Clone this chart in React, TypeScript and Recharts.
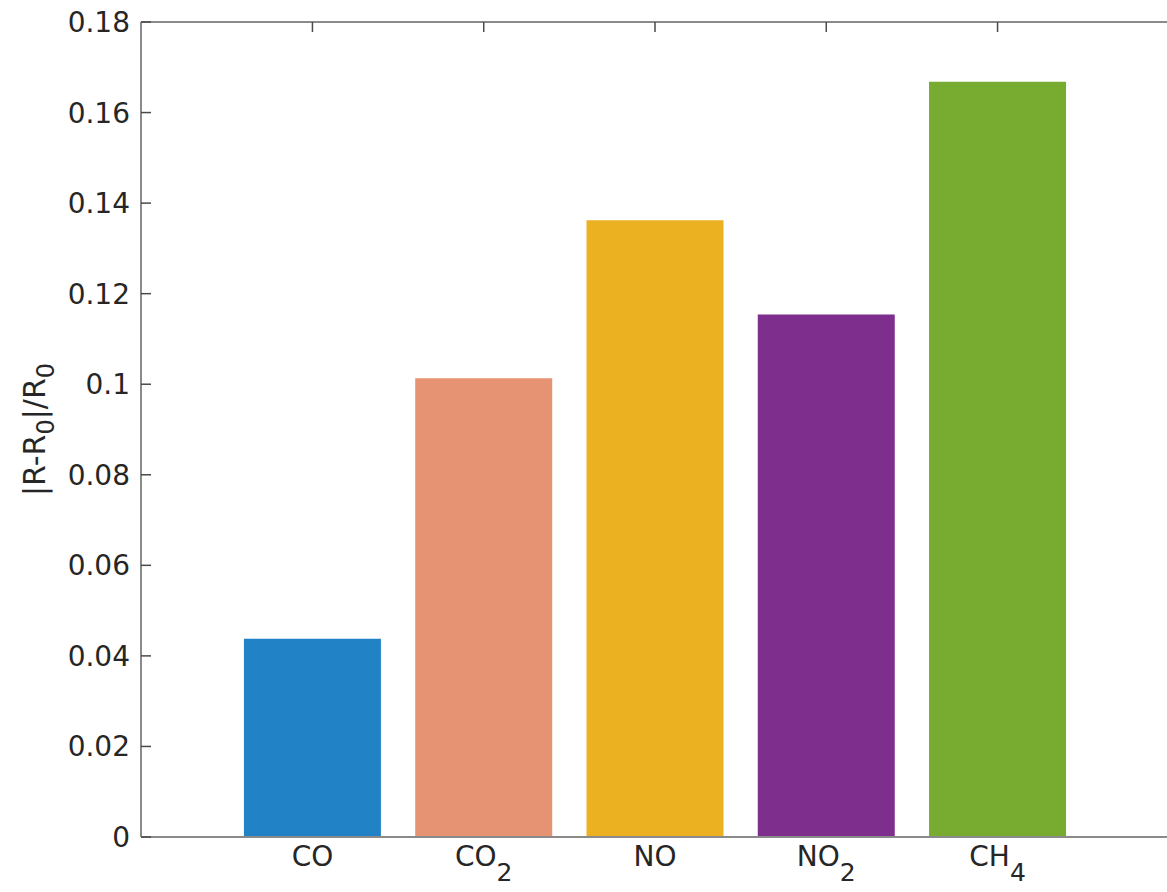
import React from 'react';
import { BarChart, Bar, XAxis, YAxis, Cell } from 'recharts';

// gas sensor relative response
const gases = ['CO', 'CO2', 'NO', 'NO2', 'CH4'];
const gasBase = ['CO', 'CO', 'NO', 'NO', 'CH'];
const gasSub = ['', '2', '', '2', '4'];
const response = [0.0438, 0.1013, 0.1362, 0.1154, 0.1668];
const barColors = ['#2183c6', '#e69373', '#ebb121', '#7e2f8e', '#78ac30'];
const yTicks = [0, 0.02, 0.04, 0.06, 0.08, 0.1, 0.12, 0.14, 0.16, 0.18];

const data = gases.map((name, i) => ({ name, base: gasBase[i], sub: gasSub[i], value: response[i] }));

const FONT = '"DejaVu Sans", sans-serif';
const TEXT = '#262626';
const AXIS = '#8a8a8a';
const TICK = '#4a4a4a';
const TICK_LEN = 10;

const fmt = (v: number) => String(Number(v.toFixed(2)));

const GasTick = (props: any) => {
    const { x, y, index } = props;
    const row = data[index];
    if (!row) return null;
    return (
        <text x={x} y={y} textAnchor="middle" fill={TEXT} fontFamily={FONT} fontSize={28}>
            <tspan dy={27}>{row.base}</tspan>
            {row.sub ? <tspan dy={15} fontSize={25}>{row.sub}</tspan> : null}
        </text>
    );
};

// left ticks: label outside, mark pointing into the plot
const LeftTick = (props: any) => {
    const { x, y, payload } = props;
    return (
        <g>
            <line x1={x + 11} x2={x + 11 + TICK_LEN} y1={y} y2={y} stroke={TICK} strokeWidth={1.5} />
            <text x={x} y={y} dy={10} textAnchor="end" fill={TEXT} fontFamily={FONT} fontSize={28}>
                {fmt(payload.value)}
            </text>
        </g>
    );
};

const RightTick = (props: any) => {
    const { x, y } = props;
    return <line x1={x - TICK_LEN} x2={x} y1={y} y2={y} stroke={TICK} strokeWidth={1.5} />;
};

const TopTick = (props: any) => {
    const { x, y } = props;
    return <line x1={x} x2={x} y1={y} y2={y + TICK_LEN} stroke={TICK} strokeWidth={1.5} />;
};

const YLabel = (props: any) => {
    const vb = props.viewBox || { x: 0, y: 0, width: 141, height: 815 };
    const cx = vb.x + 45;
    const cy = vb.y + vb.height / 2;
    return (
        <text
            transform={`translate(${cx},${cy}) rotate(-90)`}
            textAnchor="middle"
            fill={TEXT}
            fontFamily={FONT}
            fontSize={30}
        >
            <tspan>|R-R</tspan>
            <tspan dy={9} fontSize={24}>0</tspan>
            <tspan dy={-9}>|/R</tspan>
            <tspan dy={9} fontSize={24}>0</tspan>
        </text>
    );
};

export default function App() {
    return (
        <div style={{ position: 'absolute', left: 0, top: 0, width: 1167, height: 892, overflow: 'hidden', background: '#fff' }}>
            <BarChart
                width={1169}
                height={892}
                data={data}
                margin={{ top: 21, right: 0, bottom: 0, left: 0 }}
                barCategoryGap="10%"
            >
                <XAxis
                    xAxisId="b"
                    dataKey="name"
                    orientation="bottom"
                    height={55}
                    padding={{ left: 85.8, right: 85.8 }}
                    axisLine={{ stroke: AXIS, strokeWidth: 2 }}
                    tickLine={false}
                    tickSize={0}
                    tick={<GasTick />}
                    interval={0}
                />
                <XAxis
                    xAxisId="t"
                    dataKey="name"
                    orientation="top"
                    height={1}
                    padding={{ left: 85.8, right: 85.8 }}
                    axisLine={{ stroke: AXIS, strokeWidth: 2 }}
                    tickLine={false}
                    tickSize={0}
                    tickMargin={0}
                    tick={<TopTick />}
                    interval={0}
                />
                <YAxis
                    yAxisId="l"
                    type="number"
                    domain={[0, 0.18]}
                    ticks={yTicks}
                    width={141}
                    axisLine={{ stroke: AXIS, strokeWidth: 2 }}
                    tickLine={false}
                    tickSize={0}
                    tickMargin={11}
                    tick={<LeftTick />}
                    interval={0}
                    label={<YLabel />}
                />
                <YAxis
                    yAxisId="r"
                    orientation="right"
                    type="number"
                    domain={[0, 0.18]}
                    ticks={yTicks}
                    width={0}
                    axisLine={{ stroke: AXIS, strokeWidth: 2 }}
                    tickLine={false}
                    tickSize={0}
                    tickMargin={0}
                    tick={<RightTick />}
                    interval={0}
                />
                <Bar dataKey="value" xAxisId="b" yAxisId="l" isAnimationActive={false}>
                    {data.map((d, i) => (
                        <Cell key={d.name} fill={barColors[i]} />
                    ))}
                </Bar>
            </BarChart>
        </div>
    );
}
